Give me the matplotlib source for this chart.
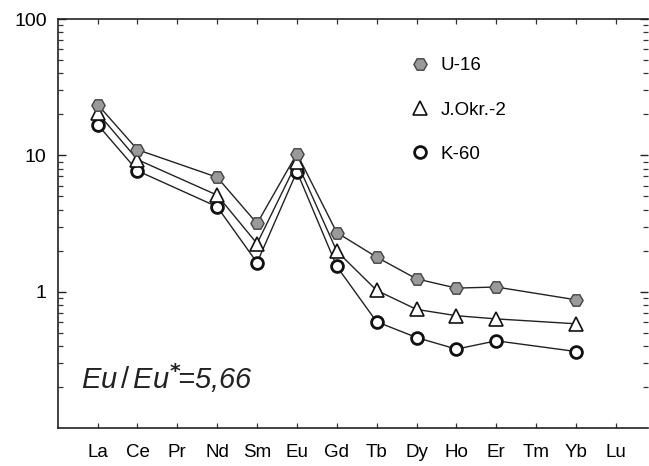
import matplotlib
matplotlib.use("Agg")
import matplotlib.pyplot as plt
from matplotlib.lines import Line2D
from matplotlib.ticker import LogLocator, NullFormatter, FixedLocator
import numpy as np

plt.rcParams['font.family'] = ['Liberation Sans', 'DejaVu Sans']
plt.rcParams['mathtext.fontset'] = 'custom'
plt.rcParams['mathtext.it'] = 'Liberation Sans:italic'
plt.rcParams['mathtext.rm'] = 'Liberation Sans'

elements = ["La", "Ce", "Pr", "Nd", "Sm", "Eu", "Gd", "Tb", "Dy", "Ho", "Er", "Tm", "Yb", "Lu"]

# analysed elements only (Pr, Tm, Lu are missing)
measured = ["La", "Ce", "Nd", "Sm", "Eu", "Gd", "Tb", "Dy", "Ho", "Er", "Yb"]
u16 = [23.6, 11.0, 6.9, 3.16, 10.3, 2.71, 1.79, 1.24, 1.06, 1.08, 0.87]
jokr2 = [20.5, 9.3, 5.1, 2.25, 8.9, 1.98, 1.02, 0.74, 0.665, 0.63, 0.58]
k60 = [16.8, 7.7, 4.19, 1.63, 7.6, 1.53, 0.60, 0.46, 0.378, 0.435, 0.363]

series = [
    ("U-16", u16, dict(marker="H", ms=9.5, mfc="#9a9a9a", mec="#444444", mew=1.0)),
    ("J.Okr.-2", jokr2, dict(marker="^", ms=9.5, mfc="white", mec="#111111", mew=1.2)),
    ("K-60", k60, dict(marker="o", ms=8.5, mfc="white", mec="#111111", mew=2.0)),
]

pos = {el: i + 1 for i, el in enumerate(elements)}
x = [pos[el] for el in measured]

fig = plt.figure(figsize=(6.49, 4.66), dpi=100, facecolor="white")
ax = fig.add_axes([0.089, 0.082, 0.909, 0.877])

handles = []
# draw lowest series first so upper markers sit on top
for name, vals, style in reversed(series):
    ax.plot(x, vals, color="#222222", lw=1.0, **style, zorder=3)
for name, vals, style in series:
    handles.append(Line2D([], [], linestyle="none", label=name, **style))

ax.set_yscale("log")
ax.set_ylim(0.1, 100)
ax.set_xlim(0, 14.8)

ax.yaxis.set_major_locator(FixedLocator([1, 10, 100]))
ax.set_yticklabels(["1", "10", "100"])
ax.yaxis.set_minor_locator(LogLocator(base=10, subs=np.arange(2, 10)))
ax.yaxis.set_minor_formatter(NullFormatter())

ax.set_xticks(range(1, len(elements) + 1))
ax.set_xticklabels(elements)

ax.tick_params(axis="y", which="major", direction="in", length=6, width=1.0,
               labelsize=14, pad=8, right=True, color="#222222")
ax.tick_params(axis="y", which="minor", direction="in", length=3.5, width=0.9,
               right=True, color="#333333")
ax.tick_params(axis="x", which="major", direction="in", length=3.5, width=0.9,
               labelsize=13.5, pad=12, top=True, color="#333333")
ax.tick_params(axis="x", which="minor", bottom=False, top=False)

for side in ["left", "bottom", "top"]:
    ax.spines[side].set_linewidth(1.2)
    ax.spines[side].set_color("#222222")
ax.spines["right"].set_visible(False)

leg = ax.legend(handles=handles, loc="upper left", bbox_to_anchor=(0.586, 0.925),
                frameon=False, fontsize=13.5, handlelength=1.0, handletextpad=0.6,
                labelspacing=1.45, borderaxespad=0)

ax.text(0.04, 0.122, r"$Eu\,/\,Eu^{\mathbf{*}}\!$=5,66", transform=ax.transAxes,
        fontsize=21, style="italic", color="#222222", ha="left", va="center")

fig.savefig("out.png", dpi=100, facecolor="white")
